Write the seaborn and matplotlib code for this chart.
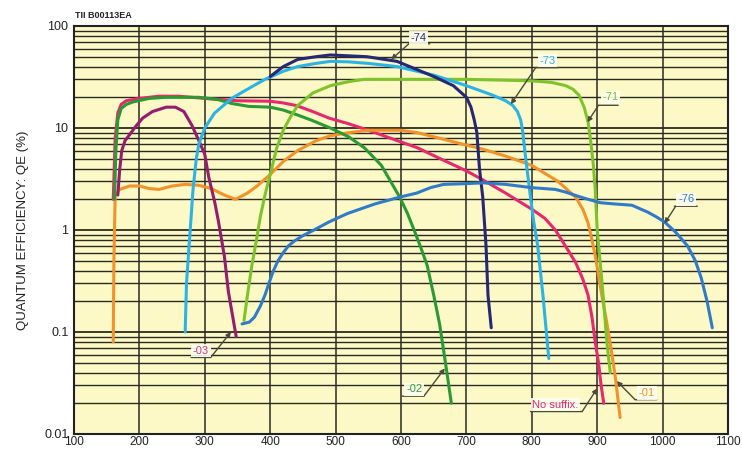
import numpy as np
import pandas as pd
import matplotlib
matplotlib.use("Agg")
import matplotlib.pyplot as plt
import seaborn as sns
from matplotlib.ticker import LogLocator, FuncFormatter, NullFormatter

# ---------------- data (wavelength nm, QE %) ----------------
nosuf_wl = [160, 163, 167, 172, 180, 200, 230, 260, 300, 350, 400, 420, 440, 465, 490, 520, 550,
            600, 625, 660, 700, 725, 760, 800, 820, 836, 850, 867, 878, 886, 892, 897, 902, 906, 910]
nosuf_qe = [2.0, 8, 14, 17, 18.5, 19.5, 20.5, 20.5, 19.5, 18.5, 18.3, 17.6, 16.6, 14.5, 12.5, 11.0,
            9.5, 7.3, 6.4, 5.0, 3.8, 3.1, 2.3, 1.6, 1.3, 1.0, 0.72, 0.48, 0.33, 0.23, 0.14, 0.08,
            0.05, 0.03, 0.02]

s01_wl = [160, 161, 163, 170, 185, 200, 215, 230, 250, 270, 290, 310, 330, 347, 365, 380, 400, 420,
          442, 470, 492, 520, 550, 600, 625, 650, 700, 725, 760, 800, 840, 867, 878, 886, 892, 897,
          902, 907, 914, 920, 928, 935]
s01_qe = [0.08, 0.5, 2.2, 2.5, 2.7, 2.7, 2.55, 2.5, 2.7, 2.8, 2.75, 2.55, 2.2, 2.0, 2.3, 2.7, 3.5,
          4.7, 6.0, 7.5, 8.4, 9.0, 9.5, 9.5, 9.0, 8.2, 6.8, 6.2, 5.3, 4.3, 3.0, 2.1, 1.6, 1.17, 0.8,
          0.56, 0.36, 0.23, 0.13, 0.077, 0.035, 0.0145]

s02_wl = [162, 164, 167, 172, 180, 190, 215, 240, 270, 291, 320, 341, 367, 400, 420, 442, 465, 492,
          520, 544, 570, 598, 610, 620, 630, 640, 650, 659, 667, 677]
s02_qe = [2.0, 6, 12, 15.5, 17, 18, 19.5, 20, 20, 20, 19, 17.4, 16.3, 16, 15, 13.4, 11.8, 10,
          8.2, 6.4, 4.3, 2.1, 1.45, 1.0, 0.68, 0.45, 0.23, 0.12, 0.055, 0.02]

s03_wl = [167, 170, 173, 178, 185, 195, 205, 220, 241, 255, 268, 280, 291, 300, 306, 315, 321, 330,
          336, 342, 348]
s03_qe = [2.2, 4.0, 6.0, 7.5, 8.6, 10.5, 12.5, 14.5, 16.0, 16.0, 14.5, 10.7, 7.5, 5.5, 3.3, 1.9,
          1.2, 0.55, 0.25, 0.15, 0.09]

s71_wl = [360, 366, 372, 379, 385, 392, 400, 410, 420, 430, 442, 465, 492, 520, 544, 600, 700, 800,
          830, 852, 863, 872, 880, 886, 890, 894, 897, 900, 905, 909, 915, 920]
s71_qe = [0.13, 0.25, 0.45, 0.8, 1.36, 2.2, 3.5, 6.4, 9.5, 12.5, 16.6, 22, 26, 28.5, 30, 30, 30, 29,
          28, 26, 24, 21, 16, 11.5, 7.5, 4.4, 2.5, 1.0, 0.45, 0.23, 0.077, 0.04]

s73_wl = [270, 272, 276, 282, 287, 291, 300, 315, 341, 370, 392, 420, 442, 470, 492, 520, 550, 594,
          650, 700, 740, 760, 771, 778, 783, 786, 790, 795, 798, 803, 809, 817, 826]
s73_qe = [0.1, 0.3, 0.7, 2.5, 5.0, 7, 10, 14, 19.5, 25, 30, 36, 40, 43, 45, 44.5, 43, 40,
          33, 26, 21, 18.5, 16.6, 14.5, 12, 9.3, 5.5, 3.0, 2.1, 1.2, 0.7, 0.23, 0.055]

s74_wl = [400, 420, 442, 470, 492, 520, 548, 594, 650, 680, 700, 707, 712, 716, 720, 725, 730, 733,
          738]
s74_qe = [32, 40, 47, 50, 52, 51, 50, 45, 32, 26, 20, 16, 12, 9, 4, 2.1, 0.7, 0.23, 0.11]

s76_wl = [357, 368, 376, 385, 392, 398, 405, 412, 420, 428, 437, 450, 467, 490, 518, 560, 598, 624,
          645, 665, 700, 726, 760, 800, 836, 852, 870, 886, 905, 927, 953, 977, 990, 1003, 1020,
          1038, 1050, 1059, 1068, 1076]
s76_qe = [0.12, 0.125, 0.14, 0.18, 0.23, 0.3, 0.4, 0.5, 0.6, 0.7, 0.78, 0.88, 1.0, 1.2, 1.45,
          1.8, 2.1, 2.3, 2.6, 2.8, 2.85, 2.9, 2.8, 2.6, 2.5, 2.35, 2.15, 2.0, 1.85, 1.8, 1.75, 1.5,
          1.35, 1.2, 0.95, 0.7, 0.5, 0.34, 0.2, 0.11]

series_names = ["No suffix", "-01", "-02", "-03", "-71", "-73", "-74", "-76"]
series_data = [(nosuf_wl, nosuf_qe), (s01_wl, s01_qe), (s02_wl, s02_qe), (s03_wl, s03_qe),
               (s71_wl, s71_qe), (s73_wl, s73_qe), (s74_wl, s74_qe), (s76_wl, s76_qe)]

x_ticks = [100, 200, 300, 400, 500, 600, 700, 800, 900, 1000, 1100]

palette = {
    "No suffix": "#E8286E",
    "-01": "#F39229",
    "-02": "#2A9A35",
    "-03": "#951C6E",
    "-71": "#7DC42A",
    "-73": "#2BB3E6",
    "-74": "#262775",
    "-76": "#2F7BC8",
}
label_colors = dict(palette)
label_colors["-03"] = "#C8407F"

frames = []
for name, (wl, qe) in zip(series_names, series_data):
    frames.append(pd.DataFrame({"wl": wl, "qe": qe, "series": name}))
df = pd.concat(frames, ignore_index=True)

# ---------------- figure ----------------
sns.set_theme(style="white")
plt.rcParams['font.family'] = ['Liberation Sans', 'DejaVu Sans']

fig = plt.figure(figsize=(7.42, 4.5), dpi=100)
top_px, bot_px = 26, 434
left_px, right_px = 74, 728
ax = fig.add_axes([left_px / 742, 1 - bot_px / 450, (right_px - left_px) / 742,
                   (bot_px - top_px) / 450])
ax.set_facecolor("#FCF9C6")

sns.lineplot(data=df, x="wl", y="qe", hue="series", hue_order=series_names,
             palette=palette, sort=False, estimator=None, units="series",
             linewidth=2.2, legend=False, ax=ax, zorder=3)

ax.set_yscale("log")
ax.set_xlim(100, 1100)
ax.set_ylim(0.01, 100)
ax.set_xticks(x_ticks)
ax.set_xticklabels([str(t) for t in x_ticks])
ax.yaxis.set_major_locator(LogLocator(base=10))
ax.yaxis.set_minor_locator(LogLocator(base=10, subs=range(2, 10), numticks=20))
ax.yaxis.set_major_formatter(FuncFormatter(lambda v, p: "%g" % v))
ax.yaxis.set_minor_formatter(NullFormatter())

ax.set_axisbelow(True)
ax.grid(axis="x", which="major", color="#2a2a22", linewidth=1.1)
ax.grid(axis="y", which="major", color="#2a2a22", linewidth=1.3)
ax.grid(axis="y", which="minor", color="#2a2a22", linewidth=1.0)

for sp in ax.spines.values():
    sp.set_color("#222222")
    sp.set_linewidth(1.5)

ax.tick_params(axis="y", which="major", labelsize=9, length=3, width=1,
               color="#222222", direction="out", pad=1, labelcolor="#222222")
ax.tick_params(axis="x", which="major", labelsize=8.5, length=0, width=1,
               color="#222222", direction="out", pad=1.5, labelcolor="#222222")
ax.tick_params(axis="y", which="minor", length=2, width=0.8, color="#222222")
ax.set_xlabel("")
ax.set_ylabel("QUANTUM EFFICIENCY: QE (%)", fontsize=9.5, color="#222222", labelpad=11)

fig.text(75 / 742, 1 - 15 / 450, "TII B00113EA", fontsize=6.5, fontweight="bold",
         color="#222222", ha="left", va="center")

# ---------------- labels with leader lines ----------------
# name: (text pos, underline x-range, underline y, elbow x, tip)
labels = [
    ("-74", (627, 76.5), (612, 644), 66.9, 612, (585, 47)),
    ("-73", (824, 45.8), (806, 841), 39.1, 806, (768, 17.1)),
    ("-71", (920, 20.0), (902, 932), 16.7, 902, (885, 11.4)),
    ("-76", (1036, 2.0), (1018, 1053), 1.71, 1020, (1003, 1.16)),
    ("-03", (294, 0.0655), (279, 309), 0.0563, 309, (340, 0.1)),
    ("-02", (620, 0.0274), (602, 635), 0.0235, 635, (667, 0.044)),
    ("No suffix.", (836, 0.0194), (798, 877), 0.0166, 877, (900, 0.028)),
    ("-01", (976, 0.0253), (958, 991), 0.0217, 958, (930, 0.033)),
]
lead_col = "#4a4a3a"
for name, tpos, (ux1, ux2), uy, ex, tip in labels:
    key = "No suffix" if name.startswith("No") else name
    ax.annotate("", xy=(ux2, uy), xytext=(ux1, uy),
                arrowprops=dict(arrowstyle="-", color=lead_col, lw=1.0,
                                shrinkA=0, shrinkB=0), zorder=5)
    ax.annotate("", xy=tip, xytext=(ex, uy),
                arrowprops=dict(arrowstyle="-|>", color=lead_col, lw=1.0,
                                mutation_scale=7, shrinkA=0, shrinkB=0), zorder=5)
    ax.text(tpos[0], tpos[1], name, color=label_colors[key], fontsize=8,
            ha="center", va="center", zorder=6,
            bbox=dict(boxstyle="square,pad=0.15", facecolor="#FFFFF2",
                      edgecolor="none", alpha=0.9))

fig.savefig("out.png", dpi=100)
